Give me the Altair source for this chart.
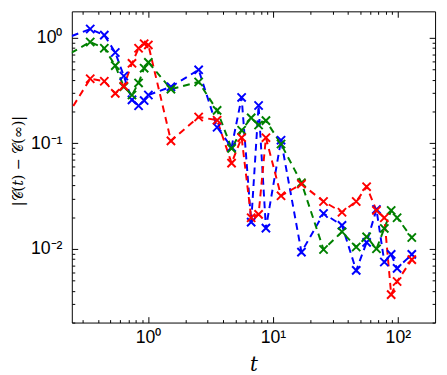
import altair as alt
import pandas as pd

# time values (first one lies just left of the visible range)
t = [0.2, 0.344, 0.446, 0.546, 0.639, 0.743, 0.839, 0.93, 1.005, 1.524, 2.54, 3.57,
     4.66, 5.61, 6.69, 7.67, 8.78, 11.6, 16.9, 25.4, 35.7, 46.4, 56.2, 67.4, 77.9,
     88.4, 98.6, 129.3]
blue = [0.95, 1.21, 1.06, 0.725, 0.434, 0.258, 0.227, 0.254, 0.287, 0.343, 0.497, 0.142,
        0.0914, 0.272, 0.0179, 0.228, 0.0157, 0.107, 0.0093, 0.0216, 0.0167, 0.00624,
        0.0115, 0.0236, 0.0075, 0.00885, 0.00652, 0.00885]
green = [0.632, 0.912, 0.795, 0.545, 0.343, 0.287, 0.373, 0.515, 0.585, 0.326, 0.381, 0.205,
         0.0895, 0.133, 0.174, 0.149, 0.164, 0.0984, 0.0423, 0.00985, 0.0145, 0.0104,
         0.013, 0.01, 0.0156, 0.0231, 0.0197, 0.0128]
red = [0.146, 0.409, 0.387, 0.297, 0.348, 0.573, 0.795, 0.879, 0.855, 0.1055, 0.1775, 0.1655,
       0.0649, 0.113, 0.0197, 0.0212, 0.113, 0.0318, 0.0411, 0.0281, 0.0222, 0.0281,
       0.0388, 0.0231, 0.0197, 0.00368, 0.0049, 0.0079]

series = ["blue", "green", "red"]
colors = ["#0000ff", "#008000", "#ff0000"]

x_major = [1, 10, 100]
x_minor = [0.3, 0.4, 0.5, 0.6, 0.7, 0.8, 0.9, 2, 3, 4, 5, 6, 7, 8, 9,
           20, 30, 40, 50, 60, 70, 80, 90]
y_major = [0.01, 0.1, 1]
y_minor = [0.002, 0.003, 0.004, 0.005, 0.006, 0.007, 0.008, 0.009,
           0.02, 0.03, 0.04, 0.05, 0.06, 0.07, 0.08, 0.09,
           0.2, 0.3, 0.4, 0.5, 0.6, 0.7, 0.8, 0.9]

rows = []
for name, vals in zip(series, [blue, green, red]):
    for ti, vi in zip(t, vals):
        rows.append({"t": ti, "v": vi, "s": name})
df = pd.DataFrame(rows)

xs = alt.Scale(type="log", domain=[0.245, 198.6], nice=False)
ys = alt.Scale(type="log", domain=[0.002, 1.78], nice=False)
cs = alt.Scale(domain=series, range=colors)

LF = "Liberation Sans"
common = dict(domain=False, grid=False, tickColor="black", tickWidth=1,
              labelColor="black", labelFont=LF, labelFontSize=18)

x_lbl = "'10' + (datum.value < 5 ? '⁰' : datum.value < 50 ? '¹' : '²')"
y_lbl = "'10' + (datum.value > 0.5 ? '⁰' : datum.value > 0.05 ? '⁻¹' : '⁻²')"

ax_b_major = alt.Axis(orient="bottom", values=x_major, offset=-6, tickSize=6,
                      labelExpr=x_lbl, labelPadding=6, title="t",
                      titleFont="DejaVu Serif", titleFontStyle="italic",
                      titleFontWeight="normal", titleFontSize=20, titleColor="black",
                      titlePadding=9, **common)
ax_b_minor = alt.Axis(orient="bottom", values=x_minor, offset=-3, tickSize=3,
                      labels=False, title=None, **common)
ax_t_major = alt.Axis(orient="top", values=x_major, offset=-6, tickSize=6,
                      labels=False, title=None, **common)
ax_t_minor = alt.Axis(orient="top", values=x_minor, offset=-3, tickSize=3,
                      labels=False, title=None, **common)

ax_l_major = alt.Axis(orient="left", values=y_major, offset=-6, tickSize=6,
                      labelExpr=y_lbl, labelPadding=10, labelBaseline="middle",
                      title="|𝒞(𝑡) − 𝒞(∞)|", titleFont="DejaVu Serif",
                      titleFontWeight="normal", titleFontSize=14.5, titleColor="black",
                      titlePadding=5, titleY=152, **common)
ax_l_minor = alt.Axis(orient="left", values=y_minor, offset=-3, tickSize=3,
                      labels=False, title=None, **common)
ax_r_major = alt.Axis(orient="right", values=y_major, offset=-6, tickSize=6,
                      labels=False, title=None, **common)
ax_r_minor = alt.Axis(orient="right", values=y_minor, offset=-3, tickSize=3,
                      labels=False, title=None, **common)

base = alt.Chart(df)

xpath = "M-1,-1L1,1M1,-1L-1,1"

lines = base.mark_line(strokeDash=[7, 5], strokeWidth=2, clip=True).encode(
    x=alt.X("t:Q", scale=xs, axis=ax_b_major),
    y=alt.Y("v:Q", scale=ys, axis=ax_l_major),
    color=alt.Color("s:N", scale=cs, legend=None),
)
points = base.mark_point(shape=xpath, size=70, strokeWidth=2, filled=False,
                         opacity=1, clip=True).encode(
    x=alt.X("t:Q", scale=xs, axis=ax_b_minor),
    y=alt.Y("v:Q", scale=ys, axis=ax_l_minor),
    color=alt.Color("s:N", scale=cs, legend=None),
)
ghost1 = base.mark_point(opacity=0, clip=True).encode(
    x=alt.X("t:Q", scale=xs, axis=ax_t_major),
    y=alt.Y("v:Q", scale=ys, axis=ax_r_major),
)
ghost2 = base.mark_point(opacity=0, clip=True).encode(
    x=alt.X("t:Q", scale=xs, axis=ax_t_minor),
    y=alt.Y("v:Q", scale=ys, axis=ax_r_minor),
)

chart = alt.layer(lines, points, ghost1, ghost2).resolve_axis(
    x="independent", y="independent"
).properties(
    width=370, height=317,
    autosize=alt.AutoSizeParams(type="none"),
    padding={"left": 65, "top": 0, "right": 4, "bottom": 50},
).configure_view(stroke="black", strokeWidth=1)

chart.save("out.html", embed_options={"renderer": "svg", "actions": False})
